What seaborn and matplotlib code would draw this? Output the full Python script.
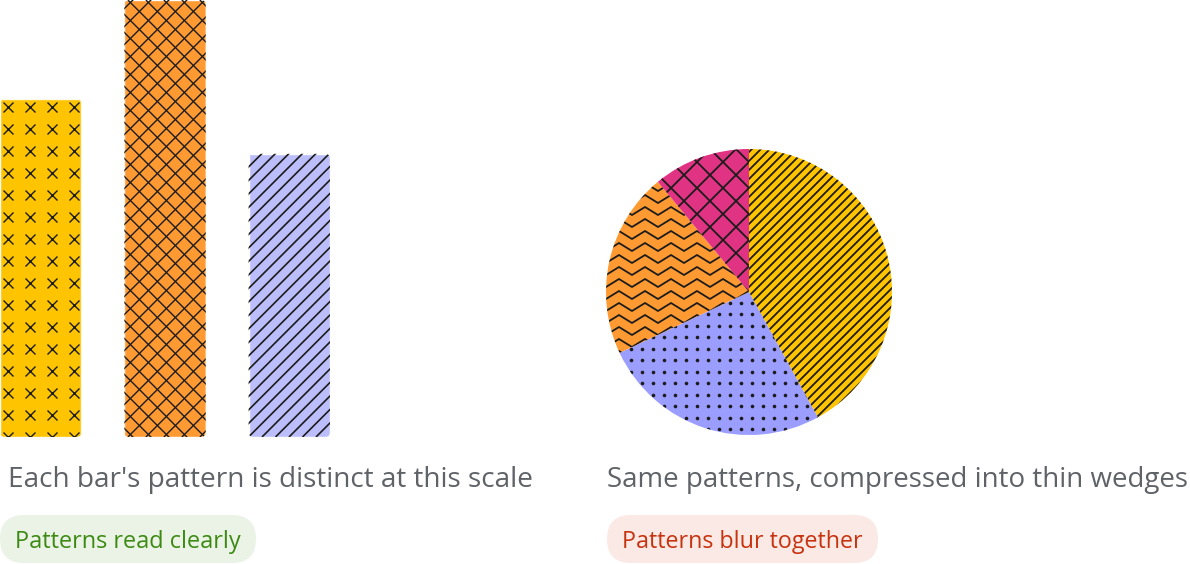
import numpy as np
import matplotlib
matplotlib.use('Agg')
import matplotlib.pyplot as plt
import seaborn as sns
from matplotlib.collections import LineCollection
from matplotlib.lines import Line2D
from matplotlib.patches import FancyBboxPatch
from matplotlib.transforms import IdentityTransform

# data
bar_labels = ["A", "B", "C"]
bar_values = [77.3, 100, 64.8]
bar_colors = ["#ffc400", "#ff9a33", "#bbbefa"]

pie_labels = ["A", "B", "C", "D"]
pie_values = [42, 26, 21, 11]
pie_colors = ["#ffc400", "#9b9dff", "#ff9a33", "#e03383"]

left_caption = "Each bar's pattern is distinct at this scale"
right_caption = "Same patterns, compressed into thin wedges"
left_badge = "Patterns read clearly"
right_badge = "Patterns blur together"

sns.set_style("white")
plt.rcParams['font.family'] = ['Open Sans', 'DejaVu Sans']

W, H = 1190, 564
fig = plt.figure(figsize=(W / 100, H / 100), dpi=100)
renderer = fig.canvas.get_renderer()
ink = "#1c1c1c"
ident = IdentityTransform()


def diag_lines(bb, step, direction=1):
    # parallel 45 degree lines in pixel space covering the bbox
    segs = []
    span = bb.width + bb.height
    for c in np.arange(-span, span, step):
        x0 = bb.x0 + c
        if direction == 1:
            segs.append([(x0, bb.y0), (x0 + span, bb.y0 + span)])
        else:
            segs.append([(x0, bb.y1), (x0 + span, bb.y1 - span)])
    return segs


def add_lines(ax, segs, clip, lw=1.2):
    lc = LineCollection(segs, colors=ink, linewidths=lw, transform=ident)
    lc.set_clip_path(clip)
    ax.add_artist(lc)


def add_marks(ax, xs, ys, clip, **kw):
    ln = Line2D(xs, ys, linestyle='none', color=ink, transform=ident, **kw)
    ln.set_clip_path(clip)
    ax.add_artist(ln)


def fitted_text(x, y, s, width_px, **kw):
    # scale the font so the string spans the measured width
    t = fig.text(x / W, y / H, s, fontsize=20, **kw)
    w = t.get_window_extent(renderer).width
    t.set_fontsize(20 * width_px / w)
    return t


# ---------------- bars ----------------
bw = 0.655
ax1 = fig.add_axes([0, (H - 437) / H, 330 / W, 437 / H])
sns.barplot(x=bar_labels, y=bar_values, hue=bar_labels, palette=bar_colors,
            width=bw, saturation=1, legend=False, ax=ax1)
ax1.set_xlim(-bw / 2, len(bar_values) - 1 + bw / 2)
ax1.set_ylim(0, max(bar_values))
ax1.axis('off')

for i, bar in enumerate(ax1.patches):
    bb = bar.get_window_extent()
    rounded = FancyBboxPatch((bb.x0, bb.y0), bb.width, bb.height,
                             boxstyle="round,pad=0,rounding_size=5",
                             transform=ident)
    bar.set_clip_path(rounded)
    if i == 0:
        xs = np.arange(bb.x0 + 8, bb.x1, 22)
        ys = np.arange(bb.y1 - 8, bb.y0 - 10, -22)
        gx, gy = np.meshgrid(xs, ys)
        add_marks(ax1, gx.ravel(), gy.ravel(), rounded, marker='x',
                  markersize=6.5, markeredgewidth=1.0)
    elif i == 1:
        add_lines(ax1, diag_lines(bb, 18, 1) + diag_lines(bb, 18, -1), rounded, 1.0)
    else:
        add_lines(ax1, diag_lines(bb, 13.5, 1), rounded, 1.2)

# ---------------- pie ----------------
r = 143
cx, cy = 749, 292
ax2 = fig.add_axes([(cx - r) / W, (H - cy - r) / H, 2 * r / W, 2 * r / H])
wedges, _ = ax2.pie(pie_values, colors=pie_colors, startangle=90,
                    counterclock=False, radius=1,
                    wedgeprops=dict(linewidth=0, edgecolor='none'))
ax2.set_xlim(-1, 1)
ax2.set_ylim(-1, 1)
ax2.set_aspect('equal')
ax2.axis('off')

pbb = ax2.get_window_extent()
for i, w in enumerate(wedges):
    if i == 0:
        add_lines(ax2, diag_lines(pbb, 9, 1), w, 1.3)
    elif i == 1:
        xs = np.arange(pbb.x0 + 3, pbb.x1, 11)
        ys = np.arange(pbb.y1 - 4, pbb.y0, -11.5)
        gx, gy = np.meshgrid(xs, ys)
        add_marks(ax2, gx.ravel(), gy.ravel(), w, marker='o',
                  markersize=2.6, markeredgewidth=0)
    elif i == 2:
        period, amp = 26, 8
        segs = []
        for yrow in np.arange(pbb.y0 - amp, pbb.y1 + amp, 12):
            px = np.arange(pbb.x0 - period, pbb.x1 + period, period / 2)
            py = yrow + amp * (np.arange(len(px)) % 2)
            segs.append(list(zip(px, py)))
        add_lines(ax2, segs, w, 1.3)
    else:
        add_lines(ax2, diag_lines(pbb, 26, 1) + diag_lines(pbb, 26, -1), w, 1.3)

# ---------------- captions ----------------
cap_kw = dict(color="#5f6368", va='baseline', ha='left')
fitted_text(8, H - 487, left_caption, 525, **cap_kw)
fitted_text(607, H - 487, right_caption, 581, **cap_kw)


def badge(x0, x1, tx0, tx1, text, bg, fg):
    y0, y1 = H - 563, H - 515
    h = y1 - y0
    pill = FancyBboxPatch((x0 + h / 2, y0 + h / 2), (x1 - x0) - h, 0.02,
                          boxstyle=f"round,pad={h / 2 - 0.01},rounding_size={h / 2}",
                          transform=ident, facecolor=bg, edgecolor='none')
    fig.add_artist(pill)
    fitted_text(tx0, H - 548, text, tx1 - tx0, color=fg, ha='left',
                va='baseline')


badge(0, 256, 15, 240, left_badge, "#eaf3e6", "#3d8a12")
badge(607, 878, 622, 862, right_badge, "#fae9e5", "#c8330f")

fig.savefig("out.png", dpi=100)
